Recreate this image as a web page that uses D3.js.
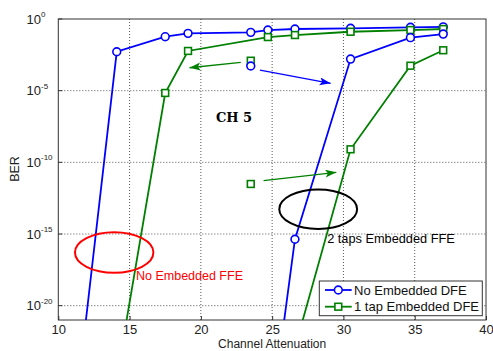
<!DOCTYPE html>
<html>
<head>
<meta charset="utf-8">
<script src="https://cdn.jsdelivr.net/npm/d3@7/dist/d3.min.js"></script>
<style>
  html, body { margin: 0; padding: 0; background: #fff; }
  svg { display: block; font-family: "Liberation Sans", Arial, sans-serif; }
</style>
</head>
<body>
<svg id="chart" width="493" height="351"></svg>
<script>
// Channel attenuation (dB) vs. BER, channel 5
const xTicks = [10, 15, 20, 25, 30, 35, 40];
const yTickExps = [0, -5, -10, -15, -20];

// No embedded FFE
const noFfeX = [11.5, 14.1, 17.5, 19.1, 23.5, 24.7, 26.6, 30.5, 34.7, 37.0];
const noFfeNoDfe = [1.6e-25, 5.2e-3, 5.8e-2, 0.10, 0.117, 0.17, 0.20, 0.224, 0.263, 0.28];
const noFfeDfeX = [14.5, 17.5, 19.1, 24.7, 26.6, 30.5, 34.7, 37.0];
const noFfeDfe = [2e-23, 6.9e-6, 5.9e-3, 5.5e-2, 7.6e-2, 0.129, 0.17, 0.20];

// 2 taps embedded FFE
const ffeNoDfeX = [25.5, 26.6, 30.5, 34.7, 37.0];
const ffeNoDfe = [2.5e-24, 4.3e-16, 1.6e-3, 5.0e-2, 8.9e-2];
const ffeDfeX = [26.5, 30.5, 34.7, 37.0];
const ffeDfe = [5e-24, 8.1e-10, 5.5e-4, 6.6e-3];

const legendLabels = ["No Embedded DFE", "1 tap Embedded DFE"];
const colors = { blue: "#0000ff", green: "#008000", red: "#ff0000", black: "#000000" };

const svg = d3.select("#chart");
const plotL = 58.3, plotR = 486, plotT = 19, plotB = 320;

const x = d3.scaleLinear().domain([10, 40]).range([plotL, plotR]);
const y = d3.scaleLog().domain([1e-21, 1]).range([plotB, plotT]);

const defs = svg.append("defs");
defs.append("clipPath").attr("id", "plotClip")
  .append("rect").attr("x", plotL).attr("y", plotT)
  .attr("width", plotR - plotL).attr("height", plotB - plotT);

// grid
const grid = svg.append("g").attr("stroke", "#444").attr("stroke-width", 0.9)
  .attr("stroke-dasharray", "1,2").attr("fill", "none");
xTicks.slice(1, -1).forEach(t => {
  grid.append("line").attr("x1", x(t)).attr("x2", x(t)).attr("y1", plotT).attr("y2", plotB);
});
yTickExps.slice(1).forEach(e => {
  grid.append("line").attr("x1", plotL).attr("x2", plotR)
    .attr("y1", y(Math.pow(10, e))).attr("y2", y(Math.pow(10, e)));
});

// axes with inward ticks
const xAxis = d3.axisBottom(x).tickValues(xTicks).tickSizeInner(-4).tickSizeOuter(0).tickPadding(5);
const gx = svg.append("g").attr("transform", `translate(0,${plotB})`).call(xAxis);
gx.attr("font-family", null).attr("font-size", null);
gx.selectAll("text").style("font-size", "13px").attr("fill", "#222");
gx.selectAll("line").attr("stroke", "#333");
gx.select(".domain").remove();

const gyTicks = svg.append("g");
yTickExps.forEach(e => {
  const yy = y(Math.pow(10, e));
  gyTicks.append("line").attr("x1", plotL).attr("x2", plotL + 4).attr("y1", yy).attr("y2", yy).attr("stroke", "#333");
  const t = gyTicks.append("text").attr("x", 26.5).attr("y", yy + 4.5)
    .style("font-size", "13px").attr("fill", "#222");
  t.append("tspan").text("10");
  t.append("tspan").attr("dy", -6.5).style("font-size", "8px").text(String(e));
});

// frame
svg.append("rect").attr("x", plotL).attr("y", plotT).attr("width", plotR - plotL).attr("height", plotB - plotT)
  .attr("fill", "none").attr("stroke", "#333").attr("stroke-width", 1);

// axis labels
svg.append("text").attr("x", (plotL + plotR) / 2).attr("y", 348).attr("text-anchor", "middle")
  .style("font-size", "12px").attr("fill", "#222").text("Channel Attenuation");
svg.append("text").attr("transform", "translate(19,169) rotate(-90)").attr("text-anchor", "middle")
  .style("font-size", "12.5px").attr("fill", "#222").text("BER");

// series
const plot = svg.append("g").attr("clip-path", "url(#plotClip)");
const line = d3.line().x(d => x(d[0])).y(d => y(d[1]));
const series = [
  { xs: noFfeX, ys: noFfeNoDfe, color: colors.blue, marker: "circle" },
  { xs: noFfeDfeX, ys: noFfeDfe, color: colors.green, marker: "square" },
  { xs: ffeNoDfeX, ys: ffeNoDfe, color: colors.blue, marker: "circle" },
  { xs: ffeDfeX, ys: ffeDfe, color: colors.green, marker: "square" }
];

function drawMarker(g, kind, cx, cy, color) {
  if (kind === "circle") {
    g.append("circle").attr("cx", cx).attr("cy", cy).attr("r", 3.9)
      .attr("fill", "#fff").attr("stroke", color).attr("stroke-width", 1.6);
  } else {
    g.append("rect").attr("x", cx - 3.4).attr("y", cy - 3.4).attr("width", 6.8).attr("height", 6.8)
      .attr("fill", "#fff").attr("stroke", color).attr("stroke-width", 1.6);
  }
}

series.forEach(s => {
  const pts = s.xs.map((v, i) => [v, s.ys[i]]);
  plot.append("path").datum(pts).attr("d", line).attr("fill", "none")
    .attr("stroke", s.color).attr("stroke-width", 1.8);
});
series.forEach(s => {
  s.xs.forEach((v, i) => drawMarker(plot, s.marker, x(v), y(s.ys[i]), s.color));
});

// annotations (data coordinates)
[["blue", colors.blue], ["green", colors.green]].forEach(([k, c]) => {
  defs.append("marker").attr("id", "head-" + k).attr("markerUnits", "userSpaceOnUse")
    .attr("markerWidth", 12).attr("markerHeight", 9).attr("refX", 11).attr("refY", 4)
    .attr("orient", "auto")
    .append("path").attr("d", "M0,0 L11,4 L0,8 L2.5,4 Z").attr("fill", c);
});

const arrows = [
  { from: [22.8, 10 ** -3.02], to: [19.2, 10 ** -3.40], key: "green", color: colors.green },
  { from: [24.15, 10 ** -3.56], to: [29.1, 10 ** -4.49], key: "blue", color: colors.blue },
  { from: [24.4, 10 ** -11.28], to: [29.5, 10 ** -10.70], key: "green", color: colors.green }
];
arrows.forEach(a => {
  svg.append("line").attr("x1", x(a.from[0])).attr("y1", y(a.from[1]))
    .attr("x2", x(a.to[0])).attr("y2", y(a.to[1]))
    .attr("stroke", a.color).attr("stroke-width", 1.3)
    .attr("marker-end", `url(#head-${a.key})`);
});

const ann = svg.append("g");
drawMarker(ann, "square", x(23.5), y(10 ** -2.91), colors.green);
drawMarker(ann, "circle", x(23.5), y(10 ** -3.28), colors.blue);
drawMarker(ann, "square", x(23.5), y(10 ** -11.51), colors.green);

// ellipses around the two groups of curves
const ellipses = [
  { cx: 13.92, cy: 10 ** -16.29, rx: 2.75, ry: 1.41, color: colors.red },
  { cx: 28.23, cy: 10 ** -13.27, rx: 2.73, ry: 1.38, color: colors.black }
];
ellipses.forEach(e => {
  const px = x(e.cx), py = y(e.cy);
  svg.append("ellipse").attr("cx", px).attr("cy", py)
    .attr("rx", x(e.cx + e.rx) - px).attr("ry", py - y(e.cy * Math.pow(10, e.ry)))
    .attr("fill", "none").attr("stroke", e.color).attr("stroke-width", 2);
});

svg.append("text").attr("x", x(21.06)).attr("y", y(10 ** -7.17))
  .style("font-family", "'DejaVu Serif', 'Liberation Serif', serif").style("font-weight", "bold")
  .style("font-size", "13px").attr("fill", "#000").text("CH 5");
svg.append("text").attr("x", x(15.45)).attr("y", y(10 ** -18.23))
  .style("font-size", "12.5px").attr("fill", colors.red).text("No Embedded FFE");
svg.append("text").attr("x", x(28.86)).attr("y", y(10 ** -15.65))
  .style("font-size", "12.75px").attr("fill", "#000").text("2 taps Embedded FFE");

// legend
const lg = svg.append("g");
lg.append("rect").attr("x", 319.3).attr("y", 281).attr("width", 163).attr("height", 34.7)
  .attr("fill", "#fff").attr("stroke", "#333").attr("stroke-width", 1);
[[colors.blue, "circle"], [colors.green, "square"]].forEach(([c, m], i) => {
  const yy = 290 + i * 16.7;
  lg.append("line").attr("x1", 325).attr("x2", 351.7).attr("y1", yy).attr("y2", yy)
    .attr("stroke", c).attr("stroke-width", 1.8);
  drawMarker(lg, m, 338.3, yy, c);
  lg.append("text").attr("x", 354).attr("y", yy + 4.6).style("font-size", "13px")
    .attr("fill", "#111").text(legendLabels[i]);
});
</script>
</body>
</html>
